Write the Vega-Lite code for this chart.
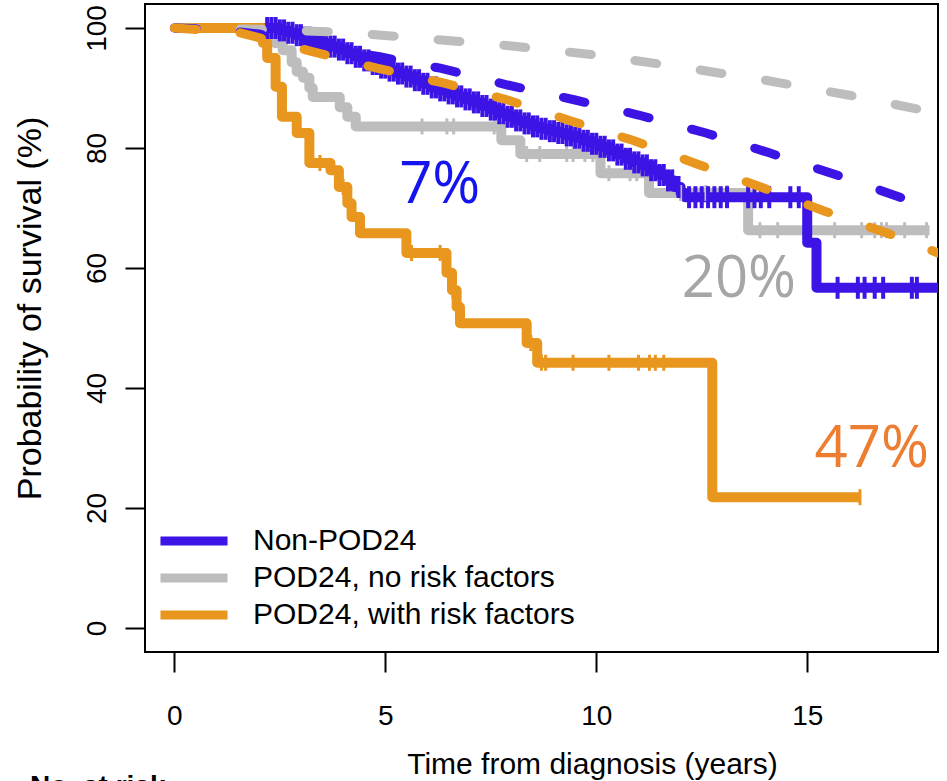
{
"$schema": "https://vega.github.io/schema/vega-lite/v6.json",
"autosize": {"type": "none"},
"padding": {"left": 145, "top": 4, "right": 9, "bottom": 129},
"width": 793,
"height": 648,
"background": "white",
"config": {
  "view": {"stroke": "black", "strokeWidth": 2},
  "legend": {"symbolType": "M-4,0H4", "symbolSize": 281, "symbolStrokeWidth": 9, "symbolOpacity": 1, "labelFontSize": 30, "labelFont": "Liberation Sans", "labelColor": "black", "labelOffset": 44, "rowPadding": 1, "padding": 0, "labelLimit": 0}
},
"datasets": {
  "km": [
    {"group": "POD24, no risk factors", "t": 0, "s": 100},
    {"group": "POD24, no risk factors", "t": 2.2, "s": 99},
    {"group": "POD24, no risk factors", "t": 2.38, "s": 97.5},
    {"group": "POD24, no risk factors", "t": 2.57, "s": 96.3},
    {"group": "POD24, no risk factors", "t": 2.78, "s": 94.3},
    {"group": "POD24, no risk factors", "t": 2.9, "s": 92.7},
    {"group": "POD24, no risk factors", "t": 3.05, "s": 91.7},
    {"group": "POD24, no risk factors", "t": 3.2, "s": 90},
    {"group": "POD24, no risk factors", "t": 3.28, "s": 88.5},
    {"group": "POD24, no risk factors", "t": 3.92, "s": 86.8},
    {"group": "POD24, no risk factors", "t": 4.1, "s": 85.2},
    {"group": "POD24, no risk factors", "t": 4.3, "s": 83.6},
    {"group": "POD24, no risk factors", "t": 7.75, "s": 81.3},
    {"group": "POD24, no risk factors", "t": 8.2, "s": 79},
    {"group": "POD24, no risk factors", "t": 10.1, "s": 75.8},
    {"group": "POD24, no risk factors", "t": 11.25, "s": 72.5},
    {"group": "POD24, no risk factors", "t": 13.6, "s": 66.3},
    {"group": "POD24, no risk factors", "t": 17.9, "s": 66.3},
    {"group": "Non-POD24", "t": 0, "s": 100},
    {"group": "Non-POD24", "t": 2.3, "s": 100},
    {"group": "Non-POD24", "t": 2.5, "s": 99.6},
    {"group": "Non-POD24", "t": 2.7, "s": 99.2},
    {"group": "Non-POD24", "t": 2.9, "s": 98.8},
    {"group": "Non-POD24", "t": 3.1, "s": 98.4},
    {"group": "Non-POD24", "t": 3.3, "s": 97.9},
    {"group": "Non-POD24", "t": 3.5, "s": 97.4},
    {"group": "Non-POD24", "t": 3.7, "s": 96.9},
    {"group": "Non-POD24", "t": 3.9, "s": 96.4},
    {"group": "Non-POD24", "t": 4.1, "s": 95.8},
    {"group": "Non-POD24", "t": 4.3, "s": 95.2},
    {"group": "Non-POD24", "t": 4.5, "s": 94.6},
    {"group": "Non-POD24", "t": 4.7, "s": 94},
    {"group": "Non-POD24", "t": 4.9, "s": 93.4},
    {"group": "Non-POD24", "t": 5.1, "s": 92.9},
    {"group": "Non-POD24", "t": 5.3, "s": 92.4},
    {"group": "Non-POD24", "t": 5.5, "s": 91.9},
    {"group": "Non-POD24", "t": 5.7, "s": 91.3},
    {"group": "Non-POD24", "t": 5.9, "s": 90.7},
    {"group": "Non-POD24", "t": 6.1, "s": 90.1},
    {"group": "Non-POD24", "t": 6.3, "s": 89.6},
    {"group": "Non-POD24", "t": 6.5, "s": 89.1},
    {"group": "Non-POD24", "t": 6.7, "s": 88.6},
    {"group": "Non-POD24", "t": 6.9, "s": 88.1},
    {"group": "Non-POD24", "t": 7.1, "s": 87.6},
    {"group": "Non-POD24", "t": 7.3, "s": 87},
    {"group": "Non-POD24", "t": 7.5, "s": 86.4},
    {"group": "Non-POD24", "t": 7.7, "s": 85.8},
    {"group": "Non-POD24", "t": 7.9, "s": 85.2},
    {"group": "Non-POD24", "t": 8.1, "s": 84.6},
    {"group": "Non-POD24", "t": 8.3, "s": 84.1},
    {"group": "Non-POD24", "t": 8.5, "s": 83.6},
    {"group": "Non-POD24", "t": 8.7, "s": 83.2},
    {"group": "Non-POD24", "t": 8.9, "s": 82.8},
    {"group": "Non-POD24", "t": 9.1, "s": 82.5},
    {"group": "Non-POD24", "t": 9.3, "s": 82.1},
    {"group": "Non-POD24", "t": 9.5, "s": 81.7},
    {"group": "Non-POD24", "t": 9.7, "s": 81.2},
    {"group": "Non-POD24", "t": 9.9, "s": 80.7},
    {"group": "Non-POD24", "t": 10.1, "s": 80.2},
    {"group": "Non-POD24", "t": 10.3, "s": 79.6},
    {"group": "Non-POD24", "t": 10.5, "s": 78.9},
    {"group": "Non-POD24", "t": 10.7, "s": 78.2},
    {"group": "Non-POD24", "t": 10.9, "s": 77.6},
    {"group": "Non-POD24", "t": 11.1, "s": 77.1},
    {"group": "Non-POD24", "t": 11.3, "s": 76.3},
    {"group": "Non-POD24", "t": 11.5, "s": 75.5},
    {"group": "Non-POD24", "t": 11.7, "s": 74.6},
    {"group": "Non-POD24", "t": 11.85, "s": 73.5},
    {"group": "Non-POD24", "t": 12.0, "s": 72.5},
    {"group": "Non-POD24", "t": 12.1, "s": 71.8},
    {"group": "Non-POD24", "t": 15.0, "s": 64.2},
    {"group": "Non-POD24", "t": 15.22, "s": 56.7},
    {"group": "Non-POD24", "t": 18.4, "s": 56.7},
    {"group": "POD24, with risk factors", "t": 0, "s": 100},
    {"group": "POD24, with risk factors", "t": 2.1, "s": 97.5},
    {"group": "POD24, with risk factors", "t": 2.2, "s": 95},
    {"group": "POD24, with risk factors", "t": 2.4, "s": 90.2},
    {"group": "POD24, with risk factors", "t": 2.55, "s": 85.2},
    {"group": "POD24, with risk factors", "t": 2.9, "s": 82.5},
    {"group": "POD24, with risk factors", "t": 3.2, "s": 77.5},
    {"group": "POD24, with risk factors", "t": 3.7, "s": 76.3},
    {"group": "POD24, with risk factors", "t": 3.9, "s": 73.5},
    {"group": "POD24, with risk factors", "t": 4.1, "s": 70.8},
    {"group": "POD24, with risk factors", "t": 4.2, "s": 68.5},
    {"group": "POD24, with risk factors", "t": 4.4, "s": 65.8},
    {"group": "POD24, with risk factors", "t": 5.5, "s": 62.5},
    {"group": "POD24, with risk factors", "t": 6.45, "s": 59.2},
    {"group": "POD24, with risk factors", "t": 6.58, "s": 56.3},
    {"group": "POD24, with risk factors", "t": 6.69, "s": 53.5},
    {"group": "POD24, with risk factors", "t": 6.77, "s": 50.8},
    {"group": "POD24, with risk factors", "t": 8.35, "s": 47.5},
    {"group": "POD24, with risk factors", "t": 8.6, "s": 44.2},
    {"group": "POD24, with risk factors", "t": 12.75, "s": 21.8},
    {"group": "POD24, with risk factors", "t": 16.25, "s": 21.8}
  ],
  "cens": [
    {"group": "POD24, no risk factors", "t": 5.87, "s": 83.6},
    {"group": "POD24, no risk factors", "t": 6.46, "s": 83.6},
    {"group": "POD24, no risk factors", "t": 6.62, "s": 83.6},
    {"group": "POD24, no risk factors", "t": 7.58, "s": 83.6},
    {"group": "POD24, no risk factors", "t": 8.35, "s": 79},
    {"group": "POD24, no risk factors", "t": 8.66, "s": 79},
    {"group": "POD24, no risk factors", "t": 9.3, "s": 79},
    {"group": "POD24, no risk factors", "t": 9.45, "s": 79},
    {"group": "POD24, no risk factors", "t": 9.73, "s": 79},
    {"group": "POD24, no risk factors", "t": 9.92, "s": 79},
    {"group": "POD24, no risk factors", "t": 10.3, "s": 75.8},
    {"group": "POD24, no risk factors", "t": 10.8, "s": 75.8},
    {"group": "POD24, no risk factors", "t": 10.96, "s": 75.8},
    {"group": "POD24, no risk factors", "t": 12.0, "s": 72.5},
    {"group": "POD24, no risk factors", "t": 12.6, "s": 72.5},
    {"group": "POD24, no risk factors", "t": 13.1, "s": 72.5},
    {"group": "POD24, no risk factors", "t": 13.88, "s": 66.3},
    {"group": "POD24, no risk factors", "t": 14.3, "s": 66.3},
    {"group": "POD24, no risk factors", "t": 15.65, "s": 66.3},
    {"group": "POD24, no risk factors", "t": 16.29, "s": 66.3},
    {"group": "POD24, no risk factors", "t": 16.6, "s": 66.3},
    {"group": "POD24, no risk factors", "t": 16.76, "s": 66.3},
    {"group": "POD24, no risk factors", "t": 16.88, "s": 66.3},
    {"group": "POD24, no risk factors", "t": 17.31, "s": 66.3},
    {"group": "POD24, no risk factors", "t": 17.83, "s": 66.3},
    {"group": "POD24, with risk factors", "t": 3.45, "s": 77.5},
    {"group": "POD24, with risk factors", "t": 4.0, "s": 73.5},
    {"group": "POD24, with risk factors", "t": 5.62, "s": 62.5},
    {"group": "POD24, with risk factors", "t": 6.3, "s": 62.5},
    {"group": "POD24, with risk factors", "t": 6.6, "s": 56.3},
    {"group": "POD24, with risk factors", "t": 8.45, "s": 47.5},
    {"group": "POD24, with risk factors", "t": 8.7, "s": 44.2},
    {"group": "POD24, with risk factors", "t": 8.8, "s": 44.2},
    {"group": "POD24, with risk factors", "t": 9.45, "s": 44.2},
    {"group": "POD24, with risk factors", "t": 10.3, "s": 44.2},
    {"group": "POD24, with risk factors", "t": 11.0, "s": 44.2},
    {"group": "POD24, with risk factors", "t": 11.26, "s": 44.2},
    {"group": "POD24, with risk factors", "t": 11.4, "s": 44.2},
    {"group": "POD24, with risk factors", "t": 11.6, "s": 44.2},
    {"group": "POD24, with risk factors", "t": 16.25, "s": 21.8}
  ],
  "censblue": [
    {"group": "Non-POD24", "t": 2.2, "s": 100},
    {"group": "Non-POD24", "t": 2.3, "s": 100},
    {"group": "Non-POD24", "t": 2.4, "s": 100},
    {"group": "Non-POD24", "t": 2.5, "s": 99.6},
    {"group": "Non-POD24", "t": 2.6, "s": 99.6},
    {"group": "Non-POD24", "t": 2.7, "s": 99.2},
    {"group": "Non-POD24", "t": 2.8, "s": 99.2},
    {"group": "Non-POD24", "t": 2.9, "s": 98.8},
    {"group": "Non-POD24", "t": 3.0, "s": 98.8},
    {"group": "Non-POD24", "t": 3.1, "s": 98.4},
    {"group": "Non-POD24", "t": 3.2, "s": 98.4},
    {"group": "Non-POD24", "t": 3.3, "s": 97.9},
    {"group": "Non-POD24", "t": 3.4, "s": 97.9},
    {"group": "Non-POD24", "t": 3.5, "s": 97.4},
    {"group": "Non-POD24", "t": 3.6, "s": 97.4},
    {"group": "Non-POD24", "t": 3.7, "s": 96.9},
    {"group": "Non-POD24", "t": 3.8, "s": 96.9},
    {"group": "Non-POD24", "t": 3.9, "s": 96.4},
    {"group": "Non-POD24", "t": 4.0, "s": 96.4},
    {"group": "Non-POD24", "t": 4.1, "s": 95.8},
    {"group": "Non-POD24", "t": 4.2, "s": 95.8},
    {"group": "Non-POD24", "t": 4.3, "s": 95.2},
    {"group": "Non-POD24", "t": 4.4, "s": 95.2},
    {"group": "Non-POD24", "t": 4.5, "s": 94.6},
    {"group": "Non-POD24", "t": 4.6, "s": 94.6},
    {"group": "Non-POD24", "t": 4.7, "s": 94},
    {"group": "Non-POD24", "t": 4.8, "s": 94},
    {"group": "Non-POD24", "t": 4.9, "s": 93.4},
    {"group": "Non-POD24", "t": 5.0, "s": 93.4},
    {"group": "Non-POD24", "t": 5.1, "s": 92.9},
    {"group": "Non-POD24", "t": 5.2, "s": 92.9},
    {"group": "Non-POD24", "t": 5.3, "s": 92.4},
    {"group": "Non-POD24", "t": 5.4, "s": 92.4},
    {"group": "Non-POD24", "t": 5.5, "s": 91.9},
    {"group": "Non-POD24", "t": 5.6, "s": 91.9},
    {"group": "Non-POD24", "t": 5.7, "s": 91.3},
    {"group": "Non-POD24", "t": 5.8, "s": 91.3},
    {"group": "Non-POD24", "t": 5.9, "s": 90.7},
    {"group": "Non-POD24", "t": 6.0, "s": 90.7},
    {"group": "Non-POD24", "t": 6.1, "s": 90.1},
    {"group": "Non-POD24", "t": 6.2, "s": 90.1},
    {"group": "Non-POD24", "t": 6.3, "s": 89.6},
    {"group": "Non-POD24", "t": 6.4, "s": 89.6},
    {"group": "Non-POD24", "t": 6.5, "s": 89.1},
    {"group": "Non-POD24", "t": 6.6, "s": 89.1},
    {"group": "Non-POD24", "t": 6.7, "s": 88.6},
    {"group": "Non-POD24", "t": 6.8, "s": 88.6},
    {"group": "Non-POD24", "t": 6.9, "s": 88.1},
    {"group": "Non-POD24", "t": 7.0, "s": 88.1},
    {"group": "Non-POD24", "t": 7.1, "s": 87.6},
    {"group": "Non-POD24", "t": 7.2, "s": 87.6},
    {"group": "Non-POD24", "t": 7.3, "s": 87},
    {"group": "Non-POD24", "t": 7.4, "s": 87},
    {"group": "Non-POD24", "t": 7.5, "s": 86.4},
    {"group": "Non-POD24", "t": 7.6, "s": 86.4},
    {"group": "Non-POD24", "t": 7.7, "s": 85.8},
    {"group": "Non-POD24", "t": 7.8, "s": 85.8},
    {"group": "Non-POD24", "t": 7.9, "s": 85.2},
    {"group": "Non-POD24", "t": 8.0, "s": 85.2},
    {"group": "Non-POD24", "t": 8.1, "s": 84.6},
    {"group": "Non-POD24", "t": 8.2, "s": 84.6},
    {"group": "Non-POD24", "t": 8.3, "s": 84.1},
    {"group": "Non-POD24", "t": 8.4, "s": 84.1},
    {"group": "Non-POD24", "t": 8.5, "s": 83.6},
    {"group": "Non-POD24", "t": 8.6, "s": 83.6},
    {"group": "Non-POD24", "t": 8.7, "s": 83.2},
    {"group": "Non-POD24", "t": 8.8, "s": 83.2},
    {"group": "Non-POD24", "t": 8.9, "s": 82.8},
    {"group": "Non-POD24", "t": 9.0, "s": 82.8},
    {"group": "Non-POD24", "t": 9.1, "s": 82.5},
    {"group": "Non-POD24", "t": 9.2, "s": 82.5},
    {"group": "Non-POD24", "t": 9.3, "s": 82.1},
    {"group": "Non-POD24", "t": 9.4, "s": 82.1},
    {"group": "Non-POD24", "t": 9.5, "s": 81.7},
    {"group": "Non-POD24", "t": 9.6, "s": 81.7},
    {"group": "Non-POD24", "t": 9.7, "s": 81.2},
    {"group": "Non-POD24", "t": 9.8, "s": 81.2},
    {"group": "Non-POD24", "t": 9.9, "s": 80.7},
    {"group": "Non-POD24", "t": 10.0, "s": 80.7},
    {"group": "Non-POD24", "t": 10.1, "s": 80.2},
    {"group": "Non-POD24", "t": 10.2, "s": 80.2},
    {"group": "Non-POD24", "t": 10.3, "s": 79.6},
    {"group": "Non-POD24", "t": 10.4, "s": 79.6},
    {"group": "Non-POD24", "t": 10.5, "s": 78.9},
    {"group": "Non-POD24", "t": 10.6, "s": 78.9},
    {"group": "Non-POD24", "t": 10.7, "s": 78.2},
    {"group": "Non-POD24", "t": 10.8, "s": 78.2},
    {"group": "Non-POD24", "t": 10.9, "s": 77.6},
    {"group": "Non-POD24", "t": 11.0, "s": 77.6},
    {"group": "Non-POD24", "t": 11.1, "s": 77.1},
    {"group": "Non-POD24", "t": 11.2, "s": 77.1},
    {"group": "Non-POD24", "t": 11.3, "s": 76.3},
    {"group": "Non-POD24", "t": 11.4, "s": 76.3},
    {"group": "Non-POD24", "t": 11.5, "s": 75.5},
    {"group": "Non-POD24", "t": 11.6, "s": 75.5},
    {"group": "Non-POD24", "t": 11.7, "s": 74.6},
    {"group": "Non-POD24", "t": 11.8, "s": 74.6},
    {"group": "Non-POD24", "t": 11.95, "s": 73.5},
    {"group": "Non-POD24", "t": 12.2, "s": 71.8},
    {"group": "Non-POD24", "t": 12.35, "s": 71.8},
    {"group": "Non-POD24", "t": 12.5, "s": 71.8},
    {"group": "Non-POD24", "t": 12.65, "s": 71.8},
    {"group": "Non-POD24", "t": 12.8, "s": 71.8},
    {"group": "Non-POD24", "t": 12.95, "s": 71.8},
    {"group": "Non-POD24", "t": 13.1, "s": 71.8},
    {"group": "Non-POD24", "t": 13.6, "s": 71.8},
    {"group": "Non-POD24", "t": 13.75, "s": 71.8},
    {"group": "Non-POD24", "t": 13.9, "s": 71.8},
    {"group": "Non-POD24", "t": 14.1, "s": 71.8},
    {"group": "Non-POD24", "t": 14.6, "s": 71.8},
    {"group": "Non-POD24", "t": 14.8, "s": 71.8},
    {"group": "Non-POD24", "t": 15.72, "s": 56.7},
    {"group": "Non-POD24", "t": 16.2, "s": 56.7},
    {"group": "Non-POD24", "t": 16.36, "s": 56.7},
    {"group": "Non-POD24", "t": 16.6, "s": 56.7},
    {"group": "Non-POD24", "t": 16.8, "s": 56.7},
    {"group": "Non-POD24", "t": 17.48, "s": 56.7},
    {"group": "Non-POD24", "t": 17.6, "s": 56.7}
  ],
  "exp": [
    {"group": "POD24, no risk factors", "t": 0, "s": 100},
    {"group": "POD24, no risk factors", "t": 2, "s": 99.8},
    {"group": "POD24, no risk factors", "t": 4, "s": 99.3},
    {"group": "POD24, no risk factors", "t": 6, "s": 98.2},
    {"group": "POD24, no risk factors", "t": 8, "s": 97},
    {"group": "POD24, no risk factors", "t": 10, "s": 95.5},
    {"group": "POD24, no risk factors", "t": 12, "s": 93.5},
    {"group": "POD24, no risk factors", "t": 14, "s": 91.3},
    {"group": "POD24, no risk factors", "t": 16, "s": 88.8},
    {"group": "POD24, no risk factors", "t": 18.1, "s": 85.8},
    {"group": "Non-POD24", "t": 0, "s": 100},
    {"group": "Non-POD24", "t": 1, "s": 99.8},
    {"group": "Non-POD24", "t": 2, "s": 99},
    {"group": "Non-POD24", "t": 3.4, "s": 97},
    {"group": "Non-POD24", "t": 4.87, "s": 95.2},
    {"group": "Non-POD24", "t": 6.3, "s": 93.3},
    {"group": "Non-POD24", "t": 7.9, "s": 90.5},
    {"group": "Non-POD24", "t": 9.5, "s": 88},
    {"group": "Non-POD24", "t": 11, "s": 85.5},
    {"group": "Non-POD24", "t": 12.6, "s": 82.5},
    {"group": "Non-POD24", "t": 14.1, "s": 79.2},
    {"group": "Non-POD24", "t": 15.7, "s": 75.5},
    {"group": "Non-POD24", "t": 17.2, "s": 71.8},
    {"group": "Non-POD24", "t": 18.1, "s": 69.6},
    {"group": "POD24, with risk factors", "t": 0, "s": 100},
    {"group": "POD24, with risk factors", "t": 1.5, "s": 99.3},
    {"group": "POD24, with risk factors", "t": 3.2, "s": 96.2},
    {"group": "POD24, with risk factors", "t": 4.8, "s": 93.3},
    {"group": "POD24, with risk factors", "t": 6.4, "s": 90.8},
    {"group": "POD24, with risk factors", "t": 7.9, "s": 88},
    {"group": "POD24, with risk factors", "t": 9.4, "s": 84.5},
    {"group": "POD24, with risk factors", "t": 10.9, "s": 81.2},
    {"group": "POD24, with risk factors", "t": 12.4, "s": 77.3},
    {"group": "POD24, with risk factors", "t": 13.9, "s": 73.5},
    {"group": "POD24, with risk factors", "t": 15.4, "s": 69.5},
    {"group": "POD24, with risk factors", "t": 16.9, "s": 65.8},
    {"group": "POD24, with risk factors", "t": 18.1, "s": 62.5}
  ],
  "annot": [
    {"label": "7%", "t": 6.29, "s": 70.8},
    {"label": "20%", "t": 13.38, "s": 55.2},
    {"label": "47%", "t": 16.53, "s": 26.8}
  ],
  "risk": [
    {"label": "No. at risk", "t": -3.42, "s": -27.9}
  ]
},
"encoding": {
  "x": {"field": "t", "type": "quantitative",
        "scale": {"domain": [-0.696, 18.1], "nice": false, "zero": false},
        "axis": {"values": [0, 5, 10, 15], "tickSize": 20, "tickWidth": 2, "tickColor": "black", "domain": false, "grid": false,
                 "labelPadding": 30, "labelFontSize": 28, "labelFont": "Liberation Sans", "labelColor": "black",
                 "title": "Time from diagnosis (years)", "titleFont": "Liberation Sans", "titleFontSize": 30, "titleFontWeight": "normal", "titleColor": "black",
                 "titleX": 447, "titleY": 121, "titleAlign": "center", "titleBaseline": "alphabetic"}},
  "y": {"field": "s", "type": "quantitative",
        "scale": {"domain": [-4, 104], "nice": false, "zero": false},
        "axis": {"values": [0, 20, 40, 60, 80, 100], "tickSize": 20, "tickWidth": 2, "tickColor": "black", "domain": false, "grid": false,
                 "labelAngle": 270, "labelAlign": "center", "labelBaseline": "bottom", "labelPadding": 14, "labelFontSize": 28, "labelFont": "Liberation Sans", "labelColor": "black",
                 "title": "Probability of survival (%)", "titleFont": "Liberation Sans", "titleFontSize": 34, "titleFontWeight": "normal", "titleColor": "black",
                 "titleX": -115, "titleY": 304, "titleAngle": 270, "titleAlign": "center", "titleBaseline": "middle"}}
},
"layer": [
  {
    "data": {"name": "km"},
    "mark": {"type": "line", "interpolate": "step-after", "strokeWidth": 10, "clip": true, "strokeJoin": "round"},
    "encoding": {
      "color": {"field": "group", "type": "nominal",
                "scale": {"domain": ["Non-POD24", "POD24, no risk factors", "POD24, with risk factors"], "range": ["#3c14e6", "#bdbdbd", "#e8961e"]},
                "legend": {"title": null, "orient": "none", "legendX": 34, "legendY": 522, "symbolType": "M-4,0H4", "symbolSize": 281, "symbolStrokeWidth": 9, "symbolOpacity": 1}},
      "order": {"field": "t", "type": "quantitative"}
    }
  },
  {
    "data": {"name": "cens"},
    "mark": {"type": "tick", "orient": "vertical", "size": 16, "thickness": 3, "opacity": 1, "clip": true},
    "encoding": {
      "color": {"field": "group", "type": "nominal"}
    }
  },
  {
    "data": {"name": "censblue"},
    "mark": {"type": "tick", "orient": "vertical", "size": 22, "thickness": 4, "opacity": 1, "clip": true},
    "encoding": {
      "color": {"field": "group", "type": "nominal"}
    }
  },
  {
    "data": {"name": "exp"},
    "mark": {"type": "line", "strokeWidth": 9, "strokeDash": [22, 44], "strokeCap": "round", "clip": true},
    "encoding": {
      "color": {"field": "group", "type": "nominal"},
      "order": {"field": "t", "type": "quantitative"}
    }
  },
  {
    "data": {"name": "annot"},
    "transform": [{"filter": "datum.label === '7%'"}],
    "mark": {"type": "text", "font": "Open Sans", "fontSize": 58, "align": "center", "baseline": "alphabetic", "color": "#1414ee"},
    "encoding": {"text": {"field": "label"}}
  },
  {
    "data": {"name": "annot"},
    "transform": [{"filter": "datum.label === '20%'"}],
    "mark": {"type": "text", "font": "Open Sans", "fontSize": 58, "align": "center", "baseline": "alphabetic", "color": "#a6a6a6"},
    "encoding": {"text": {"field": "label"}}
  },
  {
    "data": {"name": "annot"},
    "transform": [{"filter": "datum.label === '47%'"}],
    "mark": {"type": "text", "font": "Open Sans", "fontSize": 58, "align": "center", "baseline": "alphabetic", "color": "#ed7d31"},
    "encoding": {"text": {"field": "label"}}
  },
  {
    "data": {"name": "risk"},
    "mark": {"type": "text", "font": "Liberation Sans", "fontSize": 28, "fontWeight": "bold", "align": "left", "baseline": "alphabetic", "color": "black", "clip": false},
    "encoding": {"text": {"field": "label"}}
  }
]
}
